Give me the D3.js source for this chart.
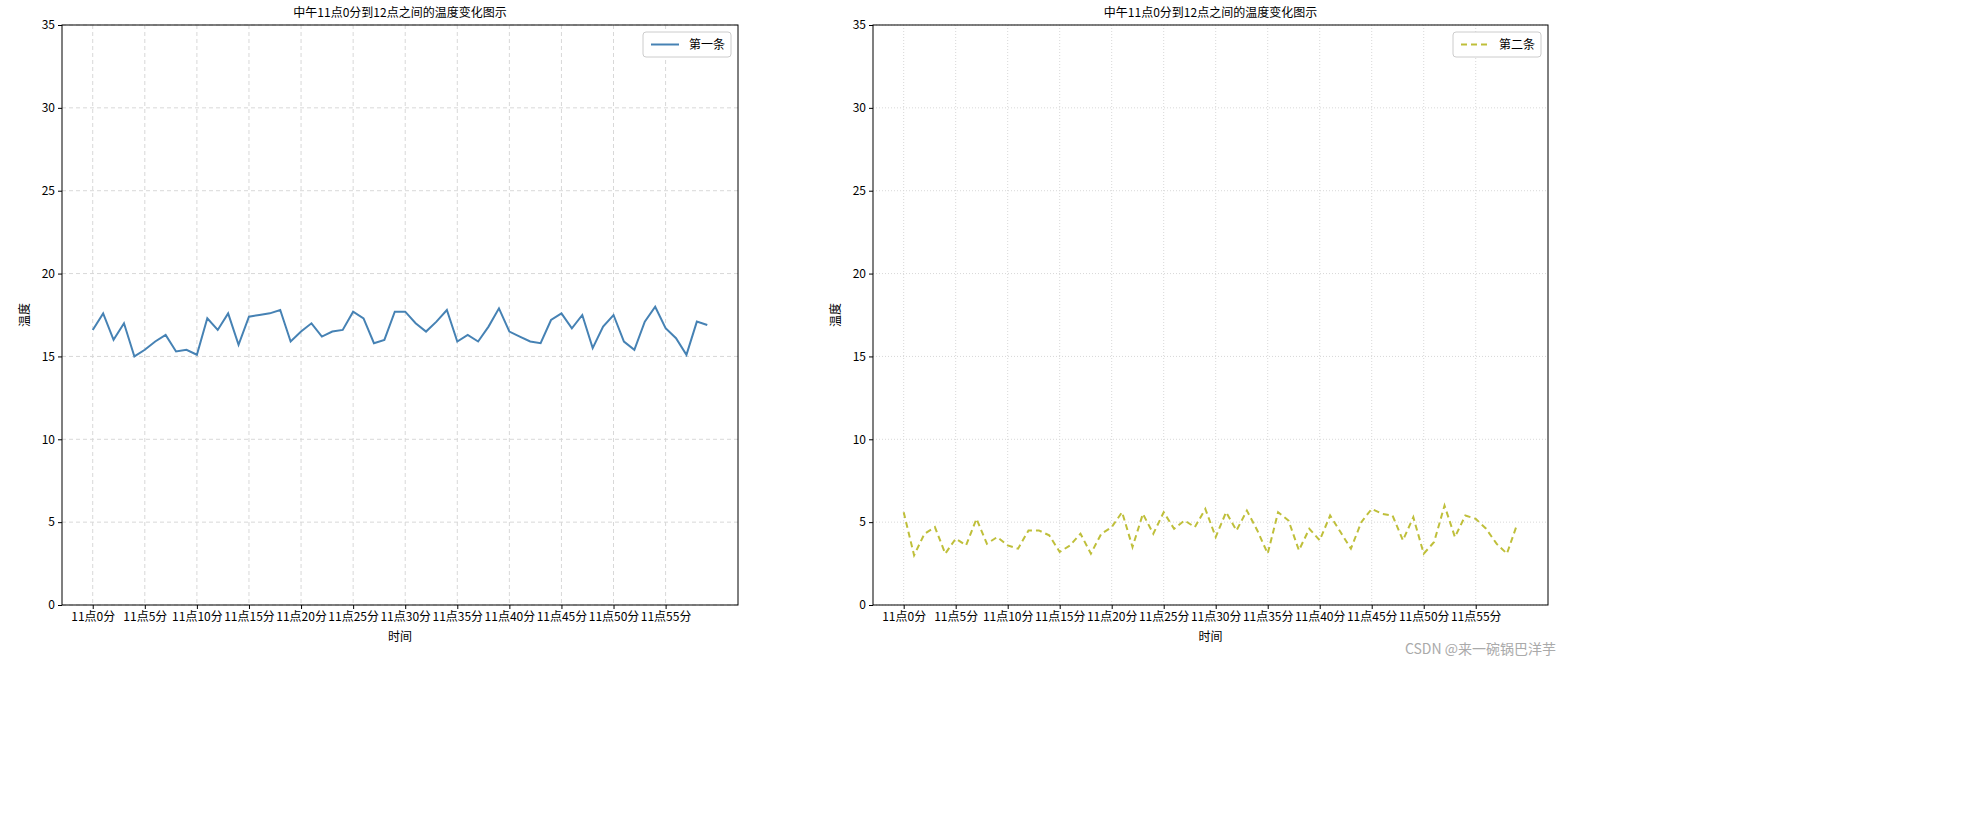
<!DOCTYPE html>
<html><head><meta charset="utf-8">
<script src="https://cdn.jsdelivr.net/npm/d3@7"></script>
<style>
body{margin:0;background:#fff;font-family:"Noto Sans CJK SC",sans-serif;}
text{font-family:"Noto Sans CJK SC",sans-serif;}
</style></head>
<body><div id="chart"></div>
<script>
// data
const minutes = d3.range(60);
const tickMinutes = d3.range(0, 60, 5);
const tickLabels = tickMinutes.map(m => "11点" + m + "分");
const yTicks = [0, 5, 10, 15, 20, 25, 30, 35];
const series1 = [16.6,17.6,16.0,17.0,15.0,15.4,15.9,16.3,15.3,15.4,15.1,17.3,16.6,17.6,15.7,17.4,17.5,17.6,17.8,15.9,
  16.5,17.0,16.2,16.5,16.6,17.7,17.3,15.8,16.0,17.7,17.7,17.0,16.5,17.1,17.8,15.9,16.3,15.9,16.8,17.9,
  16.5,16.2,15.9,15.8,17.2,17.6,16.7,17.5,15.5,16.8,17.5,15.9,15.4,17.1,18.0,16.7,16.1,15.1,17.1,16.9];
const series2 = [5.6,3.0,4.3,4.7,3.1,4.0,3.6,5.2,3.7,4.1,3.6,3.4,4.5,4.5,4.2,3.2,3.6,4.3,3.1,4.3,
  4.7,5.6,3.5,5.5,4.3,5.6,4.6,5.1,4.7,5.8,4.1,5.6,4.5,5.7,4.5,3.1,5.6,5.1,3.3,4.6,
  3.9,5.4,4.4,3.4,5.0,5.8,5.5,5.4,3.9,5.3,3.1,3.8,6.0,4.1,5.4,5.2,4.6,3.7,3.1,4.9];

const svg = d3.select("#chart").append("svg").attr("width", 1968).attr("height", 832);

const panels = [
  {left: 62, right: 738, data: series1, color: "#4682b4", dash: null, grid: "4,3", name: "第一条"},
  {left: 873, right: 1548, data: series2, color: "#bfbf3a", dash: "6,4", grid: "1,2", name: "第二条"}
];
const plotTop = 25, plotBottom = 605;

panels.forEach(p => {
  const x = d3.scaleLinear().domain([-2.95, 61.95]).range([p.left, p.right]);
  const y = d3.scaleLinear().domain([0, 35]).range([plotBottom, plotTop]);
  const g = svg.append("g");

  // grid
  g.selectAll(".vg").data(tickMinutes).join("line")
    .attr("x1", d => x(d)).attr("x2", d => x(d)).attr("y1", plotTop).attr("y2", plotBottom)
    .attr("stroke", "#d8d8d8").attr("stroke-dasharray", p.grid);
  g.selectAll(".hg").data(yTicks).join("line")
    .attr("x1", p.left).attr("x2", p.right).attr("y1", d => y(d)).attr("y2", d => y(d))
    .attr("stroke", "#d8d8d8").attr("stroke-dasharray", p.grid);

  // axes
  const xa = g.append("g").attr("transform", "translate(0," + plotBottom + ")")
    .call(d3.axisBottom(x).tickValues(tickMinutes).tickFormat((d, i) => tickLabels[i]).tickSize(4).tickSizeOuter(0));
  const ya = g.append("g").attr("transform", "translate(" + p.left + ",0)")
    .call(d3.axisLeft(y).tickValues(yTicks).tickSize(4).tickSizeOuter(0));
  [xa, ya].forEach(a => {
    a.select(".domain").remove();
    a.selectAll("text").attr("font-size", 12).attr("fill", "#000");
    a.selectAll("line").attr("stroke", "#000");
  });
  g.append("rect").attr("x", p.left).attr("y", plotTop).attr("width", p.right - p.left).attr("height", plotBottom - plotTop)
    .attr("fill", "none").attr("stroke", "#000");

  // line
  g.append("path").datum(p.data)
    .attr("fill", "none").attr("stroke", p.color).attr("stroke-width", 2)
    .attr("stroke-dasharray", p.dash)
    .attr("d", d3.line().x((d, i) => x(minutes[i])).y(d => y(d)));

  // labels
  const cx = (p.left + p.right) / 2;
  g.append("text").attr("x", cx).attr("y", 17).attr("text-anchor", "middle").attr("font-size", 12).text("中午11点0分到12点之间的温度变化图示");
  g.append("text").attr("x", cx).attr("y", 641).attr("text-anchor", "middle").attr("font-size", 12).text("时间");
  g.append("text").attr("transform", "translate(" + (p.left - 33) + "," + ((plotTop + plotBottom) / 2) + ") rotate(-90)")
    .attr("text-anchor", "middle").attr("font-size", 12).text("温度");

  // legend
  const lx = p.right - 95, ly = 32;
  g.append("rect").attr("x", lx).attr("y", ly).attr("width", 88).attr("height", 25).attr("rx", 3)
    .attr("fill", "#fff").attr("stroke", "#ccc");
  g.append("line").attr("x1", lx + 8).attr("x2", lx + 36).attr("y1", ly + 12.5).attr("y2", ly + 12.5)
    .attr("stroke", p.color).attr("stroke-width", 2).attr("stroke-dasharray", p.dash);
  g.append("text").attr("x", lx + 46).attr("y", ly + 17).attr("font-size", 12).text(p.name);
});

svg.append("text").attr("x", 1556).attr("y", 654).attr("text-anchor", "end").attr("font-size", 14)
  .attr("fill", "#aaa").text("CSDN @来一碗锅巴洋芋");
</script></body></html>
